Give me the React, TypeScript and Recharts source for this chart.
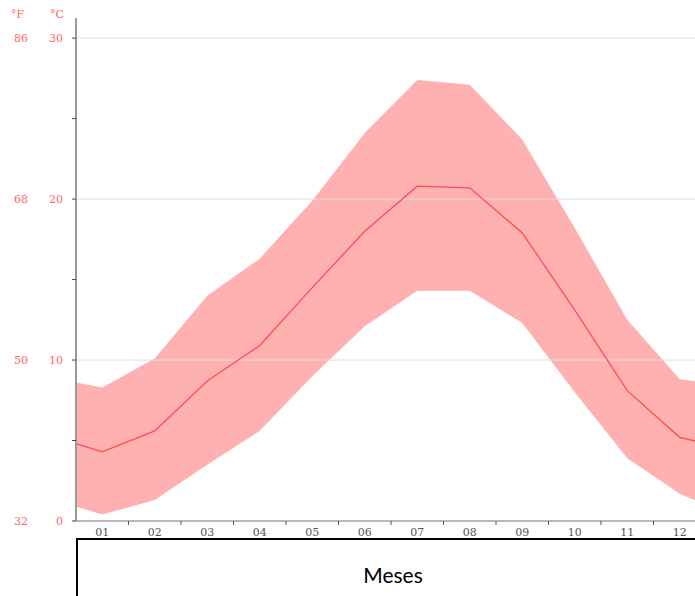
import { ComposedChart, Area, Line, XAxis, YAxis, ReferenceLine } from "recharts";

// month positions incl. the half-month edges at both ends of the plot
const monthPos = [0.5, 1, 2, 3, 4, 5, 6, 7, 8, 9, 10, 11, 12, 12.5];
const monthLabels = ["01", "02", "03", "04", "05", "06", "07", "08", "09", "10", "11", "12"];
const meanTemp = [4.8, 4.3, 5.6, 8.7, 10.9, 14.5, 18.0, 20.8, 20.7, 17.9, 13.1, 8.1, 5.2, 4.8];
const maxTemp = [8.6, 8.3, 10.1, 14.0, 16.3, 19.9, 24.1, 27.4, 27.1, 23.7, 18.2, 12.5, 8.8, 8.6];
const minTemp = [0.9, 0.4, 1.3, 3.5, 5.6, 9.0, 12.1, 14.3, 14.3, 12.3, 8.0, 3.9, 1.7, 1.0];
const celsiusTicks = [0, 5, 10, 15, 20, 25, 30];
const fahrenheit: Record<number, string> = { 0: "32", 10: "50", 20: "68", 30: "86" };

const data = monthPos.map((m, i) => ({
  month: m,
  mean: meanTemp[i],
  range: [minTemp[i], maxTemp[i]],
}));

const RED = "#ff6464";
const HALF_MONTH = 630 / 24;

const MonthTick = (props: any) => {
  const { x, y, payload } = props;
  const label = monthLabels[payload.value - 1];
  return (
    <g>
      <line x1={x + HALF_MONTH} y1={y - 8} x2={x + HALF_MONTH} y2={y - 4} stroke="#555" />
      <text x={x} y={y + 7} textAnchor="middle" fill="#555" fontSize={11} fontFamily="DejaVu Serif">
        {label}
      </text>
    </g>
  );
};

const TempTick = (props: any) => {
  const { x, y, payload } = props;
  const v = payload.value;
  if (v % 10 !== 0) return <g />;
  return (
    <g fill={RED} fontSize={11} fontFamily="DejaVu Serif">
      <text x={x - 7} y={y + 4} textAnchor="end">{v}</text>
      <text x={28} y={y + 4} textAnchor="end">{fahrenheit[v]}</text>
    </g>
  );
};

export default function App() {
  return (
    <div style={{ position: "fixed", left: 0, top: 0, width: 695, height: 596, overflow: "hidden", background: "#fff" }}>
      <div style={{ position: "absolute", left: 11, top: 8, color: RED, fontSize: 11, fontFamily: "DejaVu Serif" }}>°F</div>
      <div style={{ position: "absolute", left: 50, top: 8, color: RED, fontSize: 11, fontFamily: "DejaVu Serif" }}>°C</div>
      <div style={{ position: "absolute", left: 0, top: 0 }}>
        <ComposedChart width={706} height={540} data={data} margin={{ top: 18, right: 0, bottom: 0, left: 0 }}>
          <ReferenceLine y={10} stroke="#ddd" />
          <ReferenceLine y={20} stroke="#ddd" />
          <ReferenceLine y={30} stroke="#ddd" />
          <XAxis
            dataKey="month"
            type="number"
            domain={[0.5, 12.5]}
            ticks={[1, 2, 3, 4, 5, 6, 7, 8, 9, 10, 11, 12]}
            height={19}
            axisLine={{ stroke: "#777" }}
            tickLine={false}
            tick={<MonthTick />}
            interval={0}
          />
          <YAxis
            type="number"
            domain={[0, 31.25]}
            ticks={celsiusTicks}
            width={76}
            axisLine={{ stroke: "#999", strokeWidth: 2 }}
            tickLine={{ stroke: "#444" }}
            tickSize={4}
            tick={<TempTick />}
            interval={0}
          />
          <Area
            dataKey="range"
            stroke="none"
            fill="#ffb0b0"
            fillOpacity={1}
            isAnimationActive={false}
            dot={false}
            activeDot={false}
          />
          <Line
            dataKey="mean"
            stroke="#ff4d4d"
            strokeWidth={1.3}
            dot={false}
            activeDot={false}
            isAnimationActive={false}
          />
        </ComposedChart>
      </div>
      <div
        style={{
          position: "absolute",
          left: 76,
          top: 538,
          width: 630,
          height: 80,
          border: "2px solid #000",
          fontFamily: "Lato",
          fontSize: 21,
        }}
      >
        <div style={{ position: "absolute", left: 0, width: 630, top: 22, textAlign: "center" }}>Meses</div>
      </div>
    </div>
  );
}
